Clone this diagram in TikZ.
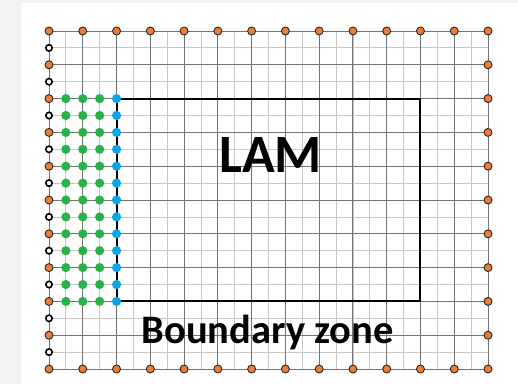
\documentclass[tikz,border=0pt]{standalone}
\usepackage{fontspec}
\setmainfont{Carlito}
\definecolor{panelgray}{HTML}{F2F2F2}
\definecolor{dotorange}{HTML}{ED7D31}
\definecolor{dotgreen}{HTML}{27B24A}
\definecolor{dotblue}{HTML}{0AA5E6}
\begin{document}
\begin{tikzpicture}[
        x=16.885pt, y=-16.9pt,
        fineline/.style={draw=black!22, line width=0.8pt},
        coarseline/.style={draw=black!55, line width=0.9pt},
        lamedge/.style={draw=black, line width=2pt},
        bcdot/.style={fill=dotorange, draw=black!85, line width=0.9pt},
        freedot/.style={fill=white, draw=black, line width=1.6pt},
        zonedot/.style={fill=dotgreen},
        edgedot/.style={fill=dotblue},
        lamlabel/.style={font=\bfseries\fontsize{54}{54}\selectfont, inner sep=0pt, anchor=base},
        zonelabel/.style={font=\bfseries\fontsize{40.5}{40.5}\selectfont, inner sep=0pt, anchor=base}
    ]

    % page and panel
    \useasboundingbox (-2.902,-1.834) rectangle (27.775,20.888);
    \fill[panelgray] (-2.902,-1.834) rectangle (27.775,20.888);
    \fill[white] (-1.658,-1.657) rectangle (27.775,20.888);

    % fine and coarse grid
    \foreach \i in {0,...,26} \draw[fineline] (\i,0) -- (\i,20);
    \foreach \j in {0,...,20} \draw[fineline] (0,\j) -- (26,\j);
    \foreach \i in {0,2,...,26} \draw[coarseline] (\i,0) -- (\i,20);
    \foreach \j in {0,2,...,20} \draw[coarseline] (0,\j) -- (26,\j);

    % limited area
    \draw[lamedge] (4,4) rectangle (22,16);

    % relaxation zone points
    \foreach \i in {1,2,3}
        \foreach \j in {4,...,16}
            \fill[zonedot] (\i,\j) circle (4.6pt);
    \foreach \j in {4,...,16}
        \fill[edgedot] (4,\j) circle (4.6pt);

    % outer boundary points
    \foreach \j in {1,3,...,19}
        \draw[freedot] (0,\j) circle (3.2pt);
    \foreach \j in {0,2,...,20}
        \draw[bcdot] (0,\j) circle (4pt);
    \foreach \i in {2,4,...,26} {
        \draw[bcdot] (\i,0) circle (4pt);
        \draw[bcdot] (\i,20) circle (4pt);
    }
    \foreach \j in {2,4,...,18}
        \draw[bcdot] (26,\j) circle (4pt);

    \node[lamlabel] (lam) at (13.12,8.40) {LAM};
    \node[zonelabel] (zone) at (12.95,18.49) {Boundary zone};

\end{tikzpicture}
\end{document}
